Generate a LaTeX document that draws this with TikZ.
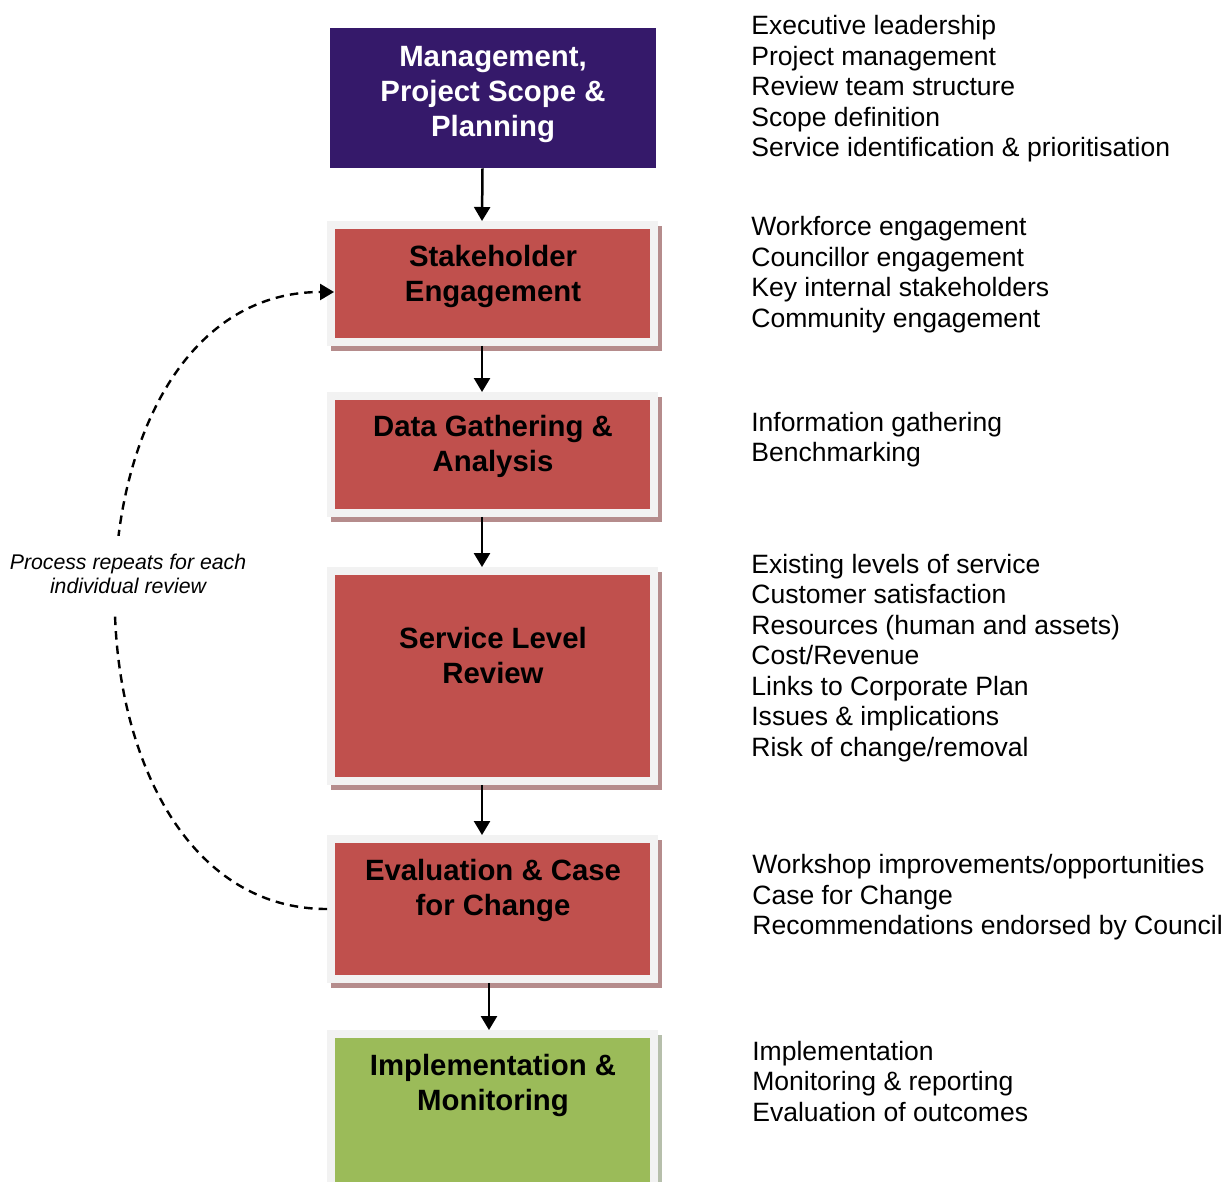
\documentclass[tikz,border=0pt]{standalone}
\usepackage{fontspec}
\setmainfont{Liberation Sans}
\usetikzlibrary{arrows.meta,shadows}
\definecolor{mgmtpurple}{HTML}{35196A}
\definecolor{stagered}{HTML}{C0504D}
\definecolor{stagegreen}{HTML}{9BBB59}
\definecolor{framegrey}{HTML}{F2F2F2}
\definecolor{shadered}{HTML}{B58C8C}
\definecolor{shadegreen}{HTML}{B6BFAB}

\begin{document}
\begin{tikzpicture}[x=0.02cm,y=-0.02cm,
    b/.style={fill=stage#1,draw=framegrey,line width=0.16cm,minimum width=6.46cm,inner sep=0pt,
      drop shadow={shadow xshift=0.08cm,shadow yshift=-0.1cm,fill=shade#1,draw=shade#1,line width=0.16cm,opacity=1}},%
    t/.style={font=\bfseries\fontsize{16.7}{19.9}\selectfont,align=center},%
    l/.style={font=\fontsize{15.1}{17.35}\selectfont,align=left,anchor=west,inner sep=0pt},%
    f/.style={-{Triangle[length=0.28cm,width=0.32cm]},line width=0.05cm},%
    d/.style={dash pattern=on 0.17cm off 0.12cm,line width=0.048cm}]
    \useasboundingbox (0,0) rectangle (1227,1182);

    % the six stages
    \node[fill=mgmtpurple,minimum width=6.52cm,minimum height=2.8cm,inner sep=0pt] (mgmt) at (493,98) {};
    \node[t,text=white] (mgmtT) at (493,94.5) {Management,\\Project Scope \&\\Planning};
    \node[b=red,minimum height=2.34cm] (stake) at (492.5,283.5) {};
    \node[t] (stakeT) at (493,276.5) {Stakeholder\\Engagement};
    \node[b=red,minimum height=2.34cm] (data) at (492.5,454.5) {};
    \node[t] (dataT) at (493,446.5) {Data Gathering \&\\Analysis};
    \node[b=red,minimum height=4.2cm] (slr) at (492.5,676) {};
    \node[t] (slrT) at (493,655.5) {Service Level\\Review};
    \node[b=red,minimum height=2.8cm] (eval) at (492.5,909) {};
    \node[t] (evalT) at (493,890) {Evaluation \& Case\\for Change};
    \node[b=green,minimum height=3.24cm] (impl) at (492.5,1115) {};
    \node[t] (implT) at (493,1085) {Implementation \&\\Monitoring};

    \draw[f] ([xshift=-0.21cm]mgmt.south) -- ([xshift=-0.21cm]stake.north);
    \draw[f] ([xshift=-0.21cm]stake.south) -- ([xshift=-0.21cm]data.north);
    \draw[f] ([xshift=-0.21cm]data.south) -- ([xshift=-0.21cm]slr.north);
    \draw[f] ([xshift=-0.21cm]slr.south) -- ([xshift=-0.21cm]eval.north);
    \draw[f] ([xshift=-0.07cm]eval.south) -- ([xshift=-0.07cm]impl.north);

    % loop back
    \draw[f,d,shorten >=-0.14cm] (eval.west) .. controls +(-282,0) and +(-282,0) .. ([yshift=-0.17cm]stake.west);
    \node[fill=white,inner xsep=0.04cm,inner ysep=0.36cm,align=center,
      font=\itshape\fontsize{12.1}{13.7}\selectfont] (rep) at (128,574) {Process repeats for each\\individual review};

    % what each stage covers
    \node[l] (lmgmt) at (751,89) {Executive leadership\\Project management\\Review team structure\\Scope definition\\Service identification \& prioritisation};
    \node[l] (lstake) at (751,274.5) {Workforce engagement\\Councillor engagement\\Key internal stakeholders\\Community engagement};
    \node[l] (ldata) at (751,439.5) {Information gathering\\Benchmarking};
    \node[l] (lslr) at (751,658) {Existing levels of service\\Customer satisfaction\\Resources (human and assets)\\Cost/Revenue\\Links to Corporate Plan\\Issues \& implications\\Risk of change/removal};
    \node[l] (leval) at (752,897.5) {Workshop improvements/opportunities\\Case for Change\\Recommendations endorsed by Council};
    \node[l] (limpl) at (752,1081.5) {Implementation\\Monitoring \& reporting\\Evaluation of outcomes};
\end{tikzpicture}
\end{document}
